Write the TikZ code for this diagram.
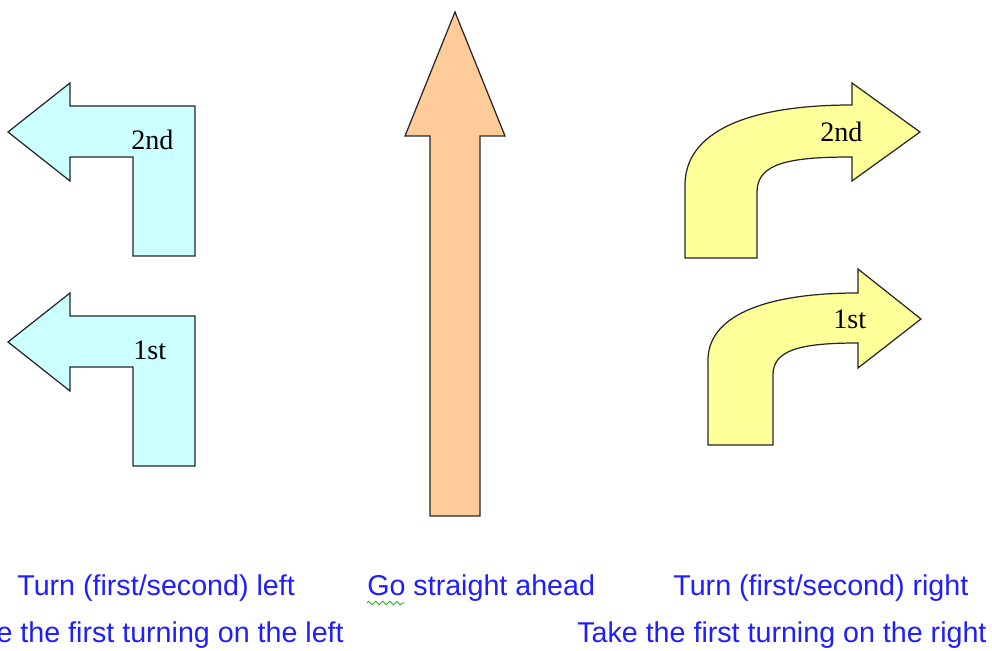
\documentclass[tikz,border=0pt]{standalone}
\usepackage{fontspec}
\setmainfont{Liberation Serif}
\setsansfont{Liberation Sans}
\usepackage{xcolor}
\usepackage{tikz}
\usetikzlibrary{decorations.pathmorphing}
\definecolor{leftfill}{HTML}{CCFFFF}
\definecolor{rightfill}{HTML}{FFFF99}
\definecolor{aheadfill}{HTML}{FFCC99}
\definecolor{captxt}{HTML}{1E1EFF}
\definecolor{spellgreen}{HTML}{33AA33}
\tikzset{
  turnl/.style={draw=black!85, line width=0.7pt, fill=leftfill, line join=miter},
  turnr/.style={draw=black!85, line width=0.7pt, fill=rightfill, line join=miter},
  ahead/.style={draw=black!85, line width=0.7pt, fill=aheadfill, line join=miter},
  ordinal/.style={font=\fontsize{16}{18}\selectfont, inner sep=0pt},
  caption/.style={font=\sffamily\fontsize{16.3}{19}\selectfont, text=captxt, inner sep=0pt}
}

\begin{document}
\begin{tikzpicture}[x=0.02cm, y=-0.02cm]
  \useasboundingbox (0,0) rectangle (992,651);
  \clip (0,0) rectangle (992,651);

  % turn left, second and first
  \draw[turnl] (8,132) -- (70,83) -- (70,106) -- (195,106) -- (195,256) -- (133,256)
    -- (133,157) -- (70,157) -- (70,181) -- cycle;
  \draw[turnl] (8,342) -- (70,293) -- (70,316) -- (195,316) -- (195,466) -- (133,466)
    -- (133,367) -- (70,367) -- (70,391) -- cycle;
  \node[ordinal, anchor=base west] (l2) at (131,150) {2nd};
  \node[ordinal, anchor=base west] (l1) at (133,360) {1st};

  % straight ahead
  \draw[ahead] (455,12) -- (505,136) -- (480,136) -- (480,516) -- (430,516)
    -- (430,136) -- (405,136) -- cycle;

  % turn right, second and first
  \draw[turnr] (685,258) -- (685,185) .. controls (685,133) and (745,105) .. (852,105)
    -- (852,83) -- (920,132) -- (852,181) -- (852,157)
    .. controls (790,157) and (757,163) .. (757,192) -- (757,258) -- cycle;
  \draw[turnr] (708,445) -- (708,360) .. controls (708,318) and (760,293) .. (858,293)
    -- (858,269) -- (921,319) -- (858,368) -- (858,343)
    .. controls (800,343) and (773,350) .. (773,375) -- (773,445) -- cycle;
  \node[ordinal, anchor=base west] (r2) at (820,142) {2nd};
  \node[ordinal, anchor=base west] (r1) at (833,329) {1st};

  % captions
  \node[caption, anchor=base west] (capl) at (17,596) {Turn (first/second) left};
  \node[caption, anchor=base east] (capl2) at (344,643) {Take the first turning on the left};
  \node[caption, anchor=base west] (capa) at (367,596) {Go straight ahead};
  \node[caption, anchor=base west] (capr) at (673,596) {Turn (first/second) right};
  \node[caption, anchor=base west] (capr2) at (577,643) {Take the first turning on the right};
  \draw[spellgreen, line width=0.5pt, decorate,
        decoration={zigzag, segment length=4pt, amplitude=1pt}]
    ([yshift=-4pt]capa.base west) -- ++(38,0);
\end{tikzpicture}
\end{document}
